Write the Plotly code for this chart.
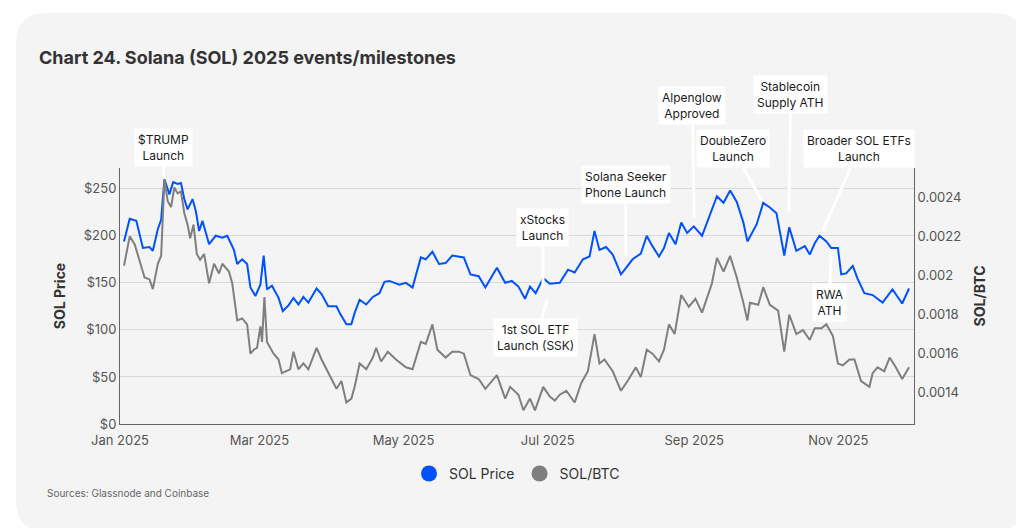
import pandas as pd
import plotly.graph_objects as go

price_days = [1.7,4.1,6.9,8.3,9.7,12.5,13.9,16,17.4,18.8,20.9,22.5,24.4,25.8,27.2,28.6,30.7,32.1,33.5,34.9,37.7,40.5,43.3,45.4,48.2,49.6,51.7,53.8,55.2,57.3,59.4,60.8,62.2,64.3,67.1,68.9,71.3,73.4,75.5,77.6,79.7,83.2,85.3,88.1,91.6,93,95.8,97.9,99.3,101.4,104.2,107,109.8,111.9,114,118.2,121,123.8,127.3,129.4,132.2,135,137.8,140.6,145.5,148.3,151.8,154.6,159.5,
              163,165.8,168.6,171.4,173.5,175.9,179.1,181.9,186.1,189.6,192.4,195.9,198.7,200.8,202.9,205.7,208.5,212,214.8,216.9,220.4,222.9,225.3,228.1,230.2,232.3,235.1,237.5,240,242.8,246.3,249.8,252.6,255.4,258.2,261,263.8,265.5,269.4,272.2,275,277.8,281.1,283.2,286.2,289.8,291.9,294,296,298.9,301,303.8,305.2,307.3,310.1,312.2,315,318.5,322.7,326.9,331,333.9]
sol_price = [194,218,216,200,187,188,184,207,217,260,244,257,255,256,239,228,239,226,205,216,191,200,198,200,185,170,175,170,145,136,148,179,143,147,134,120,126,134,127,135,129,144,138,125,125,118,106,106,118,132,127,135,139,151,152,148,150,145,177,175,183,170,171,179,177,159,157,145,166,
             150,152,146,133,146,139,155,149,150,164,161,175,178,205,185,188,180,159,168,175,181,200,189,178,187,203,191,214,203,210,200,224,242,235,248,236,214,194,212,235,230,224,179,209,184,189,180,192,200,194,187,187,159,160,168,154,139,137,129,143,128,144]

ratio_days = [1.7,4.1,6.2,8.3,10.4,12.5,13.9,16,17.4,18.8,20.2,21.6,23,24.4,25.8,27.2,28.6,29.7,31.1,32.5,33.9,35.6,37.7,39.8,41.9,43.3,46.1,47.5,49.6,51.7,53.8,55.2,56.6,58,59.4,60.1,61.1,62.2,65,67.1,68.5,72,73.4,75.5,77.6,79.7,83.2,85.3,88.1,91.6,93.7,95.8,97.9,99.3,101.4,104.2,107,108.4,110.5,113.3,116.8,121,123.8,127.3,129.4,132.2,134.3,137.8,140.6,143.4,145.5,148.3,151.8,154.6,159.5,163,
              165.1,168.6,170.7,173.5,175.6,179.1,181.9,184,186.1,188.9,192.4,195.2,198,200.8,202.9,205,208.5,212,214.8,218.3,220.4,222.9,225.3,228.1,230.2,232.3,234.7,237.5,240.7,243.5,246.3,250.5,252.6,255.4,258.2,261,263.6,265.5,266.6,270.1,272.2,275,278.5,281.1,283.2,286.2,289,291.9,294,296.8,298.9,301.7,303.8,305.9,308.7,310.8,313.6,317.1,318.5,320.6,323.4,325.7,328.3,331,333.9]
sol_btc = [0.00205,0.00220,0.00216,0.00208,0.00199,0.00198,0.00193,0.00206,0.00210,0.00249,0.00238,0.00235,0.00245,0.00242,0.00243,0.00232,0.00226,0.00219,0.00226,0.00211,0.00208,0.00211,0.00196,0.00206,0.00201,0.00206,0.00202,0.00196,0.00177,0.00178,0.00175,0.00160,0.00162,0.00163,0.00174,0.00166,0.00189,0.00166,0.00160,0.00157,0.00150,0.00152,0.00161,0.00152,0.00155,0.00152,0.00163,0.00157,0.00150,0.00142,0.00146,0.00135,0.00137,0.00143,0.00155,0.00152,0.00158,0.00163,0.00156,0.00161,0.00157,0.00153,0.00152,0.00166,0.00165,0.00175,0.00162,0.00158,0.00161,0.00161,0.00160,0.00149,0.00147,0.00142,0.00149,0.00137,
           0.00143,0.00139,0.00131,0.00137,0.00131,0.00143,0.00138,0.00136,0.00139,0.00141,0.00135,0.00145,0.00151,0.00170,0.00155,0.00157,0.00151,0.00141,0.00146,0.00153,0.00148,0.00162,0.00160,0.00156,0.00162,0.00175,0.00170,0.00190,0.00184,0.00188,0.00181,0.00196,0.00209,0.00202,0.00210,0.00199,0.00187,0.00177,0.00186,0.00185,0.00194,0.00185,0.00182,0.00161,0.00180,0.00170,0.00172,0.00167,0.00173,0.00173,0.00175,0.00169,0.00155,0.00154,0.00157,0.00157,0.00146,0.00143,0.00150,0.00153,0.00151,0.00158,0.00153,0.00147,0.00153]

price_ticks = [0, 50, 100, 150, 200, 250]
price_tick_text = ["$0", "$50", "$100", "$150", "$200", "$250"]
ratio_ticks = [0.0014, 0.0016, 0.0018, 0.002, 0.0022, 0.0024]
ratio_tick_text = ["0.0014", "0.0016", "0.0018", "0.002", "0.0022", "0.0024"]

events = ["$TRUMP<br>Launch", "xStocks<br>Launch", "1st SOL ETF<br>Launch (SSK)", "Solana Seeker<br>Phone Launch",
          "Alpenglow<br>Approved", "DoubleZero<br>Launch", "Stablecoin<br>Supply ATH", "Broader SOL ETFs<br>Launch", "RWA<br>ATH"]
event_days = [18.5, 179, 181, 214, 243, 272, 283, 297, 301]
event_price = [260, 143, 134, 177, 217, 235, 224, 203, 185]
event_ax = [0, 0, -12, 0, -2, -30, 2, 37, -2]
event_ay = [-32, -62, 40, -73, -114, -54, -119, -84, 53]

start = pd.Timestamp("2025-01-01")
to_dates = lambda ds: [start + pd.Timedelta(days=d) for d in ds]

FONT = "Inter"
BLUE, GREY = "#0052ff", "#7f7f7f"
fig = go.Figure()
fig.add_trace(go.Scatter(x=to_dates(price_days), y=sol_price, name="SOL Price", mode="lines",
                         line=dict(color=BLUE, width=2), showlegend=False))
fig.add_trace(go.Scatter(x=to_dates(ratio_days), y=sol_btc, name="SOL/BTC", mode="lines", yaxis="y2",
                         line=dict(color=GREY, width=2), showlegend=False))
for nm, c in [("SOL Price", BLUE), ("SOL/BTC", GREY)]:
    fig.add_trace(go.Scatter(x=[None], y=[None], name=nm, mode="markers",
                             marker=dict(color=c, size=16, symbol="circle")))

for t, d, p, ax, ay in zip(events, to_dates(event_days), event_price, event_ax, event_ay):
    fig.add_annotation(x=d, y=p, text=t, ax=ax, ay=ay, showarrow=True, arrowhead=0, arrowwidth=3,
                       arrowcolor="white", bgcolor="white", borderpad=3, standoff=2,
                       font=dict(family=FONT, size=12, color="#1a1a1a"))

fig.add_annotation(xref="paper", yref="paper", x=-0.105, y=1.43, xanchor="left", yanchor="middle",
                   text="<b>Chart 24. Solana (SOL) 2025 events/milestones</b>", showarrow=False,
                   font=dict(family=FONT, size=18, color="#333333"))
fig.add_annotation(xref="paper", yref="paper", x=-0.094, y=-0.27, xanchor="left", yanchor="middle",
                   text="Sources: Glassnode and Coinbase", showarrow=False,
                   font=dict(family=FONT, size=10, color="#666666"))

fig.add_shape(type="path", xref="paper", yref="paper", layer="below", line=dict(width=0), fillcolor="#f4f4f4",
              path="M -0.093,1.605 L 1.1007,1.605 Q 1.1385,1.605 1.1385,1.488 L 1.1385,-0.301 Q 1.1385,-0.418 1.1007,-0.418 "
                   "L -0.093,-0.418 Q -0.131,-0.418 -0.131,-0.301 L -0.131,1.488 Q -0.131,1.605 -0.093,1.605 Z")

fig.update_layout(
    width=1024, height=528, margin=dict(l=112, r=118, t=160, b=112),
    paper_bgcolor="white", plot_bgcolor="#f4f4f4",
    font=dict(family=FONT, size=12, color="#555555"),
    showlegend=True,
    legend=dict(orientation="h", x=0.5, xanchor="center", y=-0.195, yanchor="middle", bgcolor="rgba(0,0,0,0)",
                font=dict(family=FONT, size=14, color="#333333"), itemwidth=30),
    xaxis=dict(type="date", range=["2025-01-01", "2025-12-03"], tickformat="%b %Y",
               tickvals=["2025-01-01", "2025-03-01", "2025-05-01", "2025-07-01", "2025-09-01", "2025-11-01"],
               showgrid=False, showline=True, linecolor="#666666", ticks="outside", ticklen=4, tickcolor="rgba(0,0,0,0)",
               tickfont=dict(size=13, color="#555555")),
    yaxis=dict(range=[0, 272], tickvals=price_ticks, ticktext=price_tick_text,
               gridcolor="#d9d9d9", showline=True, linecolor="#666666", zeroline=False,
               tickfont=dict(size=13, color="#555555"),
               title=dict(text="<b>SOL Price</b>", font=dict(size=14, color="#333333"), standoff=14)),
    yaxis2=dict(overlaying="y", side="right", range=[0.00124, 0.00255],
                tickvals=ratio_ticks, ticktext=ratio_tick_text,
                showgrid=False, showline=True, linecolor="#666666", zeroline=False,
                tickfont=dict(size=13, color="#555555"),
                title=dict(text="<b>SOL/BTC</b>", font=dict(size=14, color="#333333"), standoff=14)),
)
fig.write_html("out.html")
